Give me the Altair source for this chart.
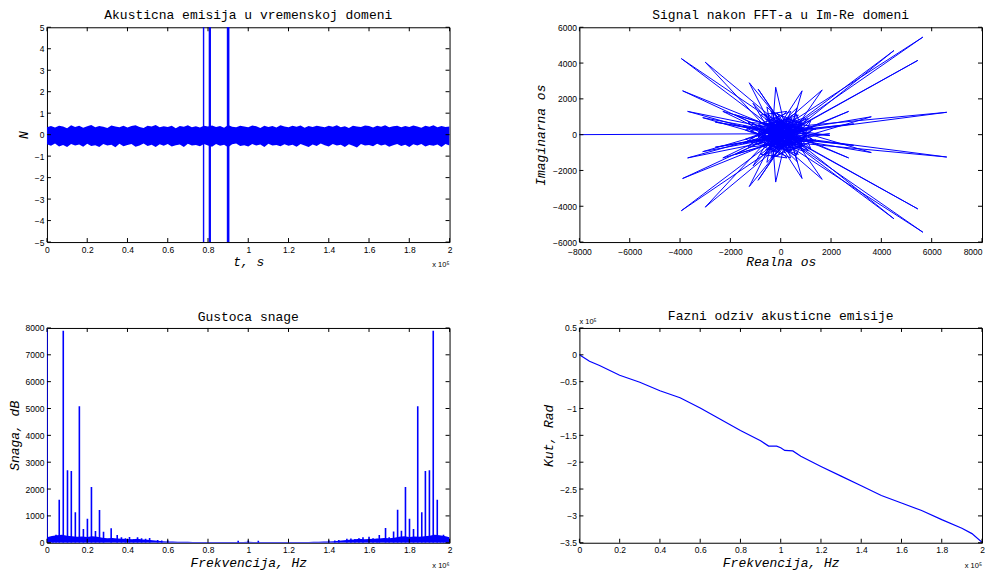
import altair as alt
import pandas as pd

BLUE = "#0000ff"
W, H = 403, 215
MONO = "Liberation Mono"
SANS = "Liberation Sans"

# ---------------- data ----------------
# Panel 1: time-domain signal (x in units of 1e5), envelope of the noise band
t_grid = [round(i * 0.02, 2) for i in range(101)]
sig_upper = [0.35,0.40,0.33,0.42,0.38,0.30,0.44,0.36,0.41,0.32,0.39,0.45,0.34,0.40,0.37,0.31,0.43,0.38,0.35,0.42,
             0.33,0.40,0.44,0.36,0.31,0.41,0.38,0.45,0.34,0.39,0.36,0.42,0.30,0.40,0.37,0.44,0.35,0.39,0.33,0.41,
             0.38,0.43,0.36,0.40,0.32,0.45,0.37,0.34,0.41,0.38,0.35,0.43,0.39,0.31,0.42,0.36,0.40,0.33,0.44,0.38,
             0.35,0.41,0.37,0.43,0.32,0.40,0.36,0.42,0.38,0.34,0.41,0.37,0.44,0.35,0.39,0.31,0.42,0.38,0.36,0.43,
             0.40,0.33,0.41,0.37,0.44,0.35,0.39,0.42,0.34,0.40,0.36,0.43,0.38,0.32,0.41,0.37,0.44,0.35,0.40,0.36,0.38]
sig_lower = [-0.45,-0.52,-0.41,-0.55,-0.48,-0.58,-0.43,-0.50,-0.46,-0.56,-0.42,-0.53,-0.49,-0.57,-0.44,-0.51,-0.47,-0.59,-0.42,-0.54,
             -0.48,-0.44,-0.56,-0.50,-0.41,-0.53,-0.47,-0.58,-0.45,-0.52,-0.43,-0.55,-0.49,-0.46,-0.57,-0.42,-0.51,-0.48,-0.54,-0.44,
             -0.50,-0.56,-0.43,-0.52,-0.47,-0.59,-0.45,-0.41,-0.53,-0.49,-0.55,-0.44,-0.51,-0.46,-0.57,-0.42,-0.50,-0.48,-0.54,-0.45,
             -0.52,-0.47,-0.56,-0.43,-0.50,-0.58,-0.46,-0.53,-0.41,-0.49,-0.55,-0.44,-0.51,-0.47,-0.57,-0.45,-0.52,-0.60,-0.43,-0.50,
             -0.48,-0.54,-0.42,-0.51,-0.46,-0.56,-0.49,-0.44,-0.53,-0.47,-0.58,-0.45,-0.50,-0.43,-0.55,-0.48,-0.52,-0.46,-0.57,-0.44,-0.50]
burst_t = [0.777, 0.779, 0.806, 0.808, 0.810, 0.812, 0.896, 0.898, 0.900, 0.902, 0.904]
burst_lo = [-7, -6, -8, -7, -8, -6, -7, -8, -8, -7, -6]
burst_hi = [7, 6, 8, 7, 8, 6, 7, 8, 8, 7, 6]

# Panel 2: FFT coefficients (Re, Im), first half; the second half is its conjugate
fft_dc = (-8200, 0)
fft_half = [
    (-300, 50), (5650, 5450), (-250, -300), (4500, 4700), (200, -150), (-3950, 4250), (300, 200),
    (-3000, 4050), (-150, -250), (5450, 4150), (250, 100), (6600, 1250), (-200, 350), (-3900, 2450),
    (150, -200), (-3700, 1300), (350, 150), (-1250, 2900), (-100, -300), (2700, 1300), (400, -100),
    (-900, 2550), (200, 250), (-200, 2650), (-350, -150), (850, 2450), (300, -250), (1650, 2500),
    (-250, 200), (-3100, 950), (100, -350), (-2300, 1300), (450, 200), (2900, 600), (-400, 100),
    (-1100, 1750), (250, -300), (1950, 50), (-300, -200), (-550, 1550), (400, 300), (650, 1500),
    (-150, 400), (-1800, 1100), (350, -350), (3600, 1000), (-200, 100), (-2600, 700), (300, 50),
    (-700, 600), (800, -500), (-500, -800), (900, 400), (-850, -200), (300, 900), (600, 700),
    (-300, -950), (1000, -100), (-950, 350), (150, -850), (700, -750), (-600, 850), (850, 650),
    (-1000, -450), (450, -900), (-200, 1000), (950, -350), (-750, -650), (550, 500), (-450, 700),
    (700, 150), (-650, -300), (300, -600), (-850, 500), (600, -300), (-350, 600), (800, 300),
    (-550, -550), (200, 750), (900, -650), (-900, -100), (400, 850), (-150, -700), (750, -200),
    (-700, 250), (500, -550), (-400, -400), (650, 400), (-250, 550), (350, -750), (-600, -150),
    (100, 650), (550, -150), (-500, 350), (250, -450), (-300, -600), (450, 150), (-150, 300),
    (300, -100), (-200, -150), (150, 200), (-100, 100), (50, -50),
    (-1500, 500), (600, -1200), (1200, 800), (-400, -1300), (1400, -300), (-1300, -700),
    (250, 1300), (-800, 1100), (1100, -900), (-1200, 200), (700, 1100), (-600, -1100),
    (1300, 300), (-150, -1200), (950, 950), (-1400, -250), (400, -1300), (-350, 1250),
]

# Panel 3: power spectrum (x in units of 1e6)
psd_grid = [round(i * 0.025, 3) for i in range(81)]
psd_floor = [200,250,280,300,260,240,220,230,210,240,220,190,170,180,160,150,140,130,150,120,110,90,70,60,50,
             45,40,35,35,30,30,30,30,30,30,30,30,30,30,30,35,30,30,30,30,30,30,30,30,30,30,30,30,35,40,45,
             50,60,70,90,110,120,150,130,140,150,160,180,170,190,220,240,210,230,220,240,260,300,280,250,200]
peak_f = [0.0, 0.061, 0.081, 0.102, 0.121, 0.141, 0.161, 0.181, 0.201, 0.221, 0.241, 0.261, 0.281, 0.319, 0.349,
          0.03, 0.045, 0.37, 0.39, 0.41, 0.43, 0.45, 0.47, 0.49, 0.51, 0.55, 0.57, 0.60, 0.95, 1.0, 1.05,
          1.40, 1.43, 1.45, 1.49, 1.51, 1.53, 1.55, 1.57, 1.60, 1.62, 1.64, 1.651, 1.682, 1.70,
          1.722, 1.742, 1.761, 1.781, 1.801, 1.821, 1.842, 1.862, 1.880, 1.900, 1.919, 1.939, 1.955, 1.97]
peak_v = [8000, 1600, 7900, 2700, 2670, 1140, 5080, 510, 890, 2080, 440, 1220, 410, 540, 290,
          250, 300, 200, 170, 210, 130, 200, 170, 150, 180, 100, 80, 90, 70, 80, 70,
          90, 80, 100, 150, 160, 140, 170, 200, 220, 170, 150, 290, 550, 200,
          420, 1230, 450, 2080, 890, 510, 5080, 1140, 2670, 2700, 7900, 1600, 250, 300]

# Panel 4: phase response (x in 1e5 Hz, y in 1e5 rad)
ph_f = [0, 0.05, 0.1, 0.2, 0.3, 0.4, 0.5, 0.6, 0.7, 0.8, 0.9, 0.94, 0.98, 1.0, 1.02, 1.06, 1.1,
        1.2, 1.3, 1.4, 1.5, 1.6, 1.7, 1.8, 1.9, 1.95, 2.0]
ph_v = [0, -0.12, -0.20, -0.38, -0.51, -0.67, -0.80, -0.99, -1.20, -1.41, -1.60, -1.70, -1.70, -1.73,
        -1.78, -1.79, -1.89, -2.08, -2.26, -2.44, -2.62, -2.76, -2.90, -3.07, -3.23, -3.33, -3.49]

# tick values
ticks_02 = [0, 0.2, 0.4, 0.6, 0.8, 1, 1.2, 1.4, 1.6, 1.8, 2]
ticks_n = [-5, -4, -3, -2, -1, 0, 1, 2, 3, 4, 5]
ticks_re = [-8000, -6000, -4000, -2000, 0, 2000, 4000, 6000, 8000]
ticks_im = [-6000, -4000, -2000, 0, 2000, 4000, 6000]
ticks_psd = [0, 1000, 2000, 3000, 4000, 5000, 6000, 7000, 8000]
ticks_ph = [0.5, 0, -0.5, -1, -1.5, -2, -2.5, -3, -3.5]


# ---------------- helpers ----------------
def axis(values, title, fmt, extent=None, lp=3, tp=2, **extra):
    kw = dict(values=values, title=title, format=fmt, ticks=False, domain=False, grid=False,
              labelFont=SANS, labelFontSize=8.5, labelColor="black", labelPadding=lp,
              labelFlush=False, labelOverlap=False,
              titleFont=MONO, titleFontSize=13, titleFontStyle="italic", titleFontWeight="normal",
              titleColor="black", titlePadding=tp)
    if extent is not None:
        kw["minExtent"] = extent
        kw["maxExtent"] = extent
    kw.update(extra)
    return alt.Axis(**kw)


def inner_ticks(xv, yv, xs, ys, xa, ya):
    dx = pd.DataFrame({"tv": xv})
    dy = pd.DataFrame({"tv": yv})
    r = dict(color="black", strokeWidth=1)
    xe = alt.X("tv:Q", scale=xs, axis=xa)
    ye = alt.Y("tv:Q", scale=ys, axis=ya)
    return [
        alt.Chart(dx).mark_rule(**r).encode(x=xe, y=alt.value(H), y2=alt.value(H - 4)),
        alt.Chart(dx).mark_rule(**r).encode(x=xe, y=alt.value(0), y2=alt.value(4)),
        alt.Chart(dy).mark_rule(**r).encode(y=ye, x=alt.value(0), x2=alt.value(4)),
        alt.Chart(dy).mark_rule(**r).encode(y=ye, x=alt.value(W - 4), x2=alt.value(W)),
    ]


def note(text, x, y, align):
    return alt.Chart(pd.DataFrame({"k": [0]})).mark_text(
        text=text, font=SANS, fontSize=7.5, color="black", align=align, baseline="bottom"
    ).encode(x=alt.value(x), y=alt.value(y))


def ttl(text, off=0):
    return alt.Title(text, font=MONO, fontSize=13, fontWeight="normal", color="black",
                     offset=off, frame="group", anchor="middle")


# ---------------- panel 1 ----------------
xs1 = alt.Scale(domain=[0, 2], nice=False, zero=False)
ys1 = alt.Scale(domain=[-5, 5], nice=False, zero=False)
xa1 = axis(ticks_02, "t, s", "~g")
ya1 = axis(ticks_n, "N", "~g", extent=14)
df1 = pd.DataFrame({"t": t_grid, "hi": sig_upper, "lo": sig_lower})
dfb = pd.DataFrame({"t": burst_t, "lo": burst_lo, "hi": burst_hi})
p1_band = alt.Chart(df1).mark_area(color=BLUE, opacity=1, clip=True).encode(
    x=alt.X("t:Q", scale=xs1, axis=xa1),
    y=alt.Y("hi:Q", scale=ys1, axis=ya1),
    y2="lo:Q",
)
p1_burst = alt.Chart(dfb).mark_rule(color=BLUE, strokeWidth=1, clip=True).encode(
    x=alt.X("t:Q", scale=xs1, axis=xa1), y=alt.Y("lo:Q", scale=ys1, axis=ya1), y2="hi:Q"
)
p1 = alt.layer(p1_band, p1_burst, *inner_ticks(ticks_02, ticks_n, xs1, ys1, xa1, ya1),
               note("x 10\u2075", W, H + 27, "right")).properties(
    width=W, height=H, title=ttl("Akusticna emisija u vremenskoj domeni", off=1))

# ---------------- panel 2 ----------------
xs2 = alt.Scale(domain=[-8000, 8000], nice=False, zero=False)
ys2 = alt.Scale(domain=[-6000, 6000], nice=False, zero=False)
xa2 = axis(ticks_re, "Realna os", "d", lp=5, tp=0,
           labelAlign=alt.expr("datum.value >= 8000 ? 'right' : 'center'"))
ya2 = axis(ticks_im, "Imaginarna os", "d", extent=30)
pts = [fft_dc] + fft_half + [(re, -im) for (re, im) in reversed(fft_half)]
df2 = pd.DataFrame({"i": list(range(len(pts))), "re": [p[0] for p in pts], "im": [p[1] for p in pts]})
p2_line = alt.Chart(df2).mark_line(color=BLUE, strokeWidth=1, clip=True).encode(
    x=alt.X("re:Q", scale=xs2, axis=xa2),
    y=alt.Y("im:Q", scale=ys2, axis=ya2),
    order="i:Q",
)
p2 = alt.layer(p2_line, *inner_ticks(ticks_re, ticks_im, xs2, ys2, xa2, ya2)).properties(
    width=W, height=H, title=ttl("Signal nakon FFT-a u Im-Re domeni", off=1))

# ---------------- panel 3 ----------------
xs3 = alt.Scale(domain=[0, 2], nice=False, zero=False)
ys3 = alt.Scale(domain=[0, 8000], nice=False, zero=False)
xa3 = axis(ticks_02, "Frekvencija, Hz", "~g")
ya3 = axis(ticks_psd, "Snaga, dB", "d", extent=23)
df3 = pd.DataFrame({"f": psd_grid, "p": psd_floor})
dfp = pd.DataFrame({"f": peak_f, "p": peak_v})
p3_floor = alt.Chart(df3).mark_area(color=BLUE, opacity=1, clip=True).encode(
    x=alt.X("f:Q", scale=xs3, axis=xa3),
    y=alt.Y("p:Q", scale=ys3, axis=ya3),
)
p3_peaks = alt.Chart(dfp).mark_rule(color=BLUE, strokeWidth=1.6, clip=True).encode(
    x=alt.X("f:Q", scale=xs3, axis=xa3), y=alt.Y("p:Q", scale=ys3, axis=ya3), y2=alt.datum(0)
)
p3 = alt.layer(p3_floor, p3_peaks, *inner_ticks(ticks_02, ticks_psd, xs3, ys3, xa3, ya3),
               note("x 10\u2076", W, H + 27, "right")).properties(
    width=W, height=H, title=ttl("Gustoca snage"))

# ---------------- panel 4 ----------------
xs4 = alt.Scale(domain=[0, 2], nice=False, zero=False)
ys4 = alt.Scale(domain=[-3.5, 0.5], nice=False, zero=False)
xa4 = axis(ticks_02, "Frekvencija, Hz", "~g")
ya4 = axis(ticks_ph, "Kut, Rad", "~g", extent=22)
df4 = pd.DataFrame({"f": ph_f, "v": ph_v})
p4_line = alt.Chart(df4).mark_line(color=BLUE, strokeWidth=1.2, clip=True).encode(
    x=alt.X("f:Q", scale=xs4, axis=xa4),
    y=alt.Y("v:Q", scale=ys4, axis=ya4),
)
p4 = alt.layer(p4_line, *inner_ticks(ticks_02, ticks_ph, xs4, ys4, xa4, ya4),
               note("x 10\u2075", W, H + 27, "right"),
               note("x 10\u2075", 0, -2, "left")).properties(
    width=W, height=H, title=ttl("Fazni odziv akusticne emisije", off=-5))

chart = alt.concat(p1, p2, p3, p4, columns=2, spacing=alt.RowColnumber(row=40, column=81)).properties(
    padding={"left": 0, "top": 0, "right": 0, "bottom": 0},
    background="white",
).configure_view(stroke="black", strokeWidth=1)

chart.save("out.html", embed_options={"renderer": "svg", "actions": False})
